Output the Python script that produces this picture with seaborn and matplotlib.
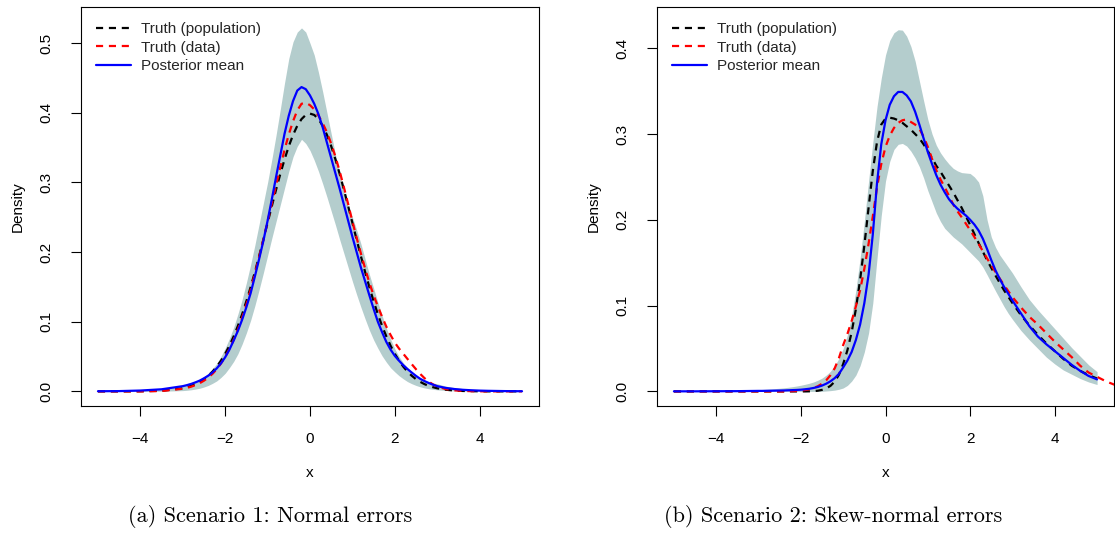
import numpy as np
import matplotlib
matplotlib.use("Agg")
import matplotlib.pyplot as plt
import seaborn as sns

# Evaluation grid shared by every density curve: coarse in the far tails,
# 0.1 steps through the body, 0.2 steps on the right.
x_grid = np.concatenate([[-5.0, -4.5, -4.0, -3.5],
                         np.linspace(-3.0, 3.0, 61),
                         np.linspace(3.2, 5.0, 10)])
# The empirical density in scenario 2 runs a little past the grid
x_tail = [5.2, 5.4, 5.6]

# ---------------- Scenario 1: normal errors ----------------
s1_truth_pop = [
    0, 0, .0001, .0009,
    .0044, .0060, .0079, .0104, .0136, .0175, .0224, .0283, .0355, .0440,
    .0540, .0656, .0790, .0940, .1109, .1295, .1497, .1714, .1942, .2179,
    .2420, .2661, .2897, .3123, .3332, .3521, .3683, .3814, .3910, .3970,
    .3989, .3970, .3910, .3814, .3683, .3521, .3332, .3123, .2897, .2661,
    .2420, .2179, .1942, .1714, .1497, .1295, .1109, .0940, .0790, .0656,
    .0540, .0440, .0355, .0283, .0224, .0175, .0136, .0104, .0079, .0060,
    .0044,
    .0024, .0012, .0006, .0003, .0001, 0, 0, 0, 0, 0]
s1_truth_data = [
    0, 0, 0, .0005,
    .0038, .0051, .0068, .0090, .0118, .0154, .0198, .0252, .0318, .0400,
    .0495, .0610, .0740, .0890, .1060, .1250, .1460, .1690, .1930, .2180,
    .2440, .2700, .2960, .3220, .3470, .3690, .3880, .4035, .4130, .4145,
    .4110, .4050, .3960, .3850, .3720, .3555, .3370, .3160, .2930, .2690,
    .2440, .2205, .1980, .1765, .1560, .1380, .1220, .1070, .0930, .0810,
    .0700, .0615, .0540, .0465, .0390, .0318, .0250, .0190, .0140, .0100,
    .0070,
    .0033, .0015, .0007, .0003, .0001, 0, 0, 0, 0, 0]
s1_post_mean = [
    .0002, .0004, .0012, .0030,
    .0075, .0090, .0108, .0130, .0155, .0188, .0225, .0272, .0330, .0402,
    .0490, .0600, .0730, .0870, .1030, .1210, .1410, .1650, .1900, .2160,
    .2450, .2760, .3080, .3390, .3700, .3960, .4170, .4320, .4370, .4340,
    .4250, .4130, .3980, .3790, .3570, .3350, .3130, .2910, .2680, .2450,
    .2220, .2000, .1780, .1580, .1380, .1185, .1000, .0850, .0710, .0600,
    .0510, .0440, .0375, .0320, .0270, .0222, .0180, .0148, .0120, .0096,
    .0075,
    .0050, .0034, .0023, .0016, .0011, .0008, .0006, .0004, .0003, .0002]
s1_band_upper = [
    .0003, .0006, .0013, .0030,
    .0075, .0091, .0110, .0135, .0165, .0208, .0260, .0325, .0400, .0500,
    .0620, .0760, .0920, .1110, .1320, .1560, .1820, .2100, .2400, .2700,
    .3000, .3330, .3680, .4050, .4430, .4780, .5020, .5160, .5220, .5160,
    .5000, .4830, .4580, .4300, .4000, .3700, .3400, .3120, .2850, .2650,
    .2500, .2320, .2120, .1900, .1680, .1480, .1280, .1090, .0910, .0750,
    .0610, .0500, .0410, .0340, .0280, .0230, .0190, .0160, .0140, .0120,
    .0110,
    .0075, .0055, .0040, .0030, .0023, .0018, .0014, .0011, .0009, .0007]
s1_band_lower = [
    0, 0, 0, .0002,
    .0011, .0016, .0023, .0033, .0045, .0063, .0085, .0115, .0150, .0200,
    .0260, .0340, .0430, .0540, .0680, .0840, .1020, .1230, .1460, .1700,
    .1950, .2200, .2440, .2680, .2920, .3160, .3370, .3520, .3620, .3560,
    .3460, .3320, .3160, .2980, .2790, .2590, .2390, .2180, .1980, .1780,
    .1580, .1390, .1210, .1040, .0880, .0740, .0620, .0510, .0420, .0340,
    .0280, .0225, .0180, .0140, .0110, .0085, .0065, .0050, .0038, .0029,
    .0022,
    .0013, .0007, .0004, .0002, .0001, 0, 0, 0, 0, 0]

# ---------------- Scenario 2: skew-normal errors ----------------
s2_truth_pop = [
    0, 0, 0, 0,
    0, 0, 0, 0, 0, 0, 0, 0, 0, 0,
    0, 0, .0001, .0003, .0008, .0018, .0035, .0065, .0115, .0195,
    .0320, .0480, .0690, .0960, .1300, .1700, .2140, .2570, .2910, .3110,
    .3180, .3190, .3180, .3160, .3130, .3090, .3050, .3000, .2950, .2880,
    .2800, .2720, .2630, .2560, .2480, .2400, .2320, .2230, .2140, .2040,
    .1940, .1835, .1730, .1630, .1530, .1440, .1350, .1265, .1180, .1105,
    .1030,
    .0890, .0770, .0660, .0560, .0470, .0380, .0300, .0240, .0190, .0150]
s2_truth_data = [
    0, 0, 0, 0,
    0, 0, 0, 0, 0, 0, 0, .0002, .0003, .0006,
    .0010, .0016, .0025, .0040, .0060, .0090, .0130, .0190, .0270, .0390,
    .0540, .0670, .0820, .0990, .1180, .1430, .1720, .2040, .2380, .2650,
    .2850, .2980, .3070, .3130, .3160, .3170, .3140, .3110, .3060, .2970,
    .2850, .2710, .2580, .2470, .2380, .2280, .2180, .2100, .2030, .1955,
    .1880, .1800, .1720, .1635, .1550, .1470, .1390, .1315, .1240, .1170,
    .1100,
    .0980, .0870, .0780, .0680, .0580, .0490, .0400, .0300, .0220, .0170,
    .0120, .0080, .0050]
s2_post_mean = [
    .0001, .0001, .0002, .0003,
    .0006, .0006, .0007, .0008, .0009, .0010, .0011, .0013, .0015, .0017,
    .0020, .0025, .0031, .0040, .0052, .0068, .0090, .0118, .0155, .0205,
    .0280, .0360, .0460, .0600, .0780, .1030, .1360, .1830, .2430, .2880,
    .3160, .3340, .3440, .3490, .3490, .3450, .3380, .3260, .3110, .2950,
    .2790, .2650, .2520, .2410, .2320, .2240, .2180, .2130, .2090, .2050,
    .2000, .1945, .1875, .1780, .1660, .1530, .1410, .1310, .1220, .1140,
    .1060,
    .0910, .0760, .0640, .0550, .0470, .0390, .0310, .0240, .0180, .0140]
s2_band_upper = [
    .0003, .0005, .0008, .0013,
    .0021, .0023, .0026, .0029, .0033, .0037, .0042, .0048, .0055, .0063,
    .0072, .0083, .0095, .0110, .0130, .0155, .0190, .0235, .0300, .0385,
    .0500, .0660, .0880, .1180, .1550, .1980, .2450, .2900, .3320, .3650,
    .3920, .4090, .4180, .4215, .4210, .4140, .4020, .3850, .3620, .3390,
    .3170, .3000, .2870, .2780, .2710, .2650, .2600, .2570, .2550, .2545,
    .2540, .2500, .2440, .2280, .2000, .1800, .1680, .1590, .1520, .1450,
    .1380,
    .1220, .1070, .0950, .0840, .0730, .0620, .0510, .0410, .0310, .0230]
s2_band_lower = [
    0, 0, 0, 0,
    0, 0, 0, 0, 0, 0, 0, 0, 0, 0,
    0, 0, 0, 0, 0, .0001, .0005, .0009, .0015, .0025,
    .0040, .0070, .0120, .0190, .0300, .0460, .0680, .1030, .1550, .2050,
    .2450, .2680, .2820, .2880, .2890, .2860, .2800, .2720, .2620, .2490,
    .2340, .2210, .2080, .1980, .1900, .1850, .1800, .1760, .1720, .1670,
    .1620, .1570, .1520, .1450, .1360, .1265, .1170, .1080, .0990, .0910,
    .0840,
    .0710, .0600, .0500, .0400, .0320, .0250, .0200, .0150, .0110, .0080]

x_ticks = [-4, -2, 0, 2, 4]
s1_yticks = [0.0, 0.1, 0.2, 0.3, 0.4, 0.5]
s2_yticks = [0.0, 0.1, 0.2, 0.3, 0.4]
captions = ["(a) Scenario 1: Normal errors", "(b) Scenario 2: Skew-normal errors"]
legend_labels = ["Truth (population)", "Truth (data)", "Posterior mean"]

sns.set_theme(style="ticks")
plt.rcParams["font.family"] = ["Liberation Sans", "DejaVu Sans"]
plt.rcParams["axes.unicode_minus"] = True

W, H = 1115, 543
fig = plt.figure(figsize=(W / 100, H / 100), dpi=100)
ax1 = fig.add_axes([81 / W, 137 / H, 458 / W, 399 / H])
ax2 = fig.add_axes([657 / W, 137 / H, 457 / W, 399 / H])

band_color = "#B4CDCD"
dash = (0, (3.2, 2.6))


def draw_panel(ax, lower, upper, pop, data, data_x, post, ylim, yticks):
    ax.fill_between(x_grid, lower, upper, color=band_color, linewidth=0, zorder=1)
    sns.lineplot(x=x_grid, y=pop, ax=ax, color="black", linestyle=dash,
                 linewidth=1.6, label=legend_labels[0], zorder=2)
    sns.lineplot(x=data_x, y=data, ax=ax, color="red", linestyle=dash,
                 linewidth=1.6, label=legend_labels[1], zorder=3)
    sns.lineplot(x=x_grid, y=post, ax=ax, color="blue", linewidth=1.6,
                 label=legend_labels[2], zorder=4)
    ax.set_xlim(-5.4, 5.4)
    ax.set_ylim(*ylim)
    ax.set_xticks(x_ticks)
    ax.set_yticks(yticks)
    ax.set_yticklabels([f"{v:.1f}" for v in yticks], rotation=90, va="center")
    ax.tick_params(axis="both", direction="out", length=7.5, width=0.8,
                   colors="black", labelsize=11)
    ax.tick_params(axis="x", pad=11)
    ax.tick_params(axis="y", pad=12.5)
    for sp in ax.spines.values():
        sp.set_color("black")
        sp.set_linewidth(0.8)
    ax.set_xlabel("x", fontsize=11, color="black")
    ax.set_ylabel("Density", fontsize=11, color="black")
    ax.xaxis.set_label_coords(0.5, -0.15)
    ax.yaxis.set_label_coords(-0.122, 0.5)
    ax.legend(loc="upper left", frameon=False, fontsize=11, handlelength=2.3,
              handletextpad=0.65, labelspacing=0.3, borderaxespad=0.78,
              borderpad=0.2)


draw_panel(ax1, s1_band_lower, s1_band_upper, s1_truth_pop, s1_truth_data,
           x_grid, s1_post_mean, (-0.021, 0.552), s1_yticks)
draw_panel(ax2, s2_band_lower, s2_band_upper, s2_truth_pop, s2_truth_data,
           np.concatenate([x_grid, x_tail]), s2_post_mean, (-0.017, 0.448),
           s2_yticks)

fig.text(270 / W, 1 - 516 / H, captions[0], ha="center", va="center",
         family="cmr10", fontsize=16, color="black")
fig.text(833 / W, 1 - 516 / H, captions[1], ha="center", va="center",
         family="cmr10", fontsize=16, color="black")

fig.savefig("out.png", dpi=100, facecolor="white")
